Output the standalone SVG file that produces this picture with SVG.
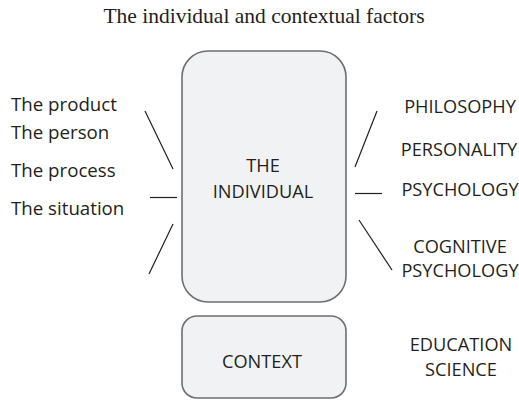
<svg xmlns="http://www.w3.org/2000/svg" width="519" height="403" viewBox="0 0 519 403">
<style>
.t{font-family:"Open Sans","Liberation Sans",sans-serif;font-size:18.2px;fill:#231f20}
.l{font-size:18.7px}
.c{text-anchor:middle}
.box{fill:#f1f2f4;stroke:#6d6e71;stroke-width:1.6}
.ln{stroke:#231f20;stroke-width:1.2;fill:none}
</style>
<rect width="519" height="403" fill="#fff"/>
<text x="264" y="22.5" text-anchor="middle" style="font-family:'Liberation Serif',serif;font-size:21.5px;fill:#231f20">The individual and contextual factors</text>
<g id="individual">
<rect class="box" x="182" y="51" width="164" height="251" rx="26" ry="26"/>
<text class="t c" x="263" y="172">THE</text>
<text class="t c" x="263" y="198">INDIVIDUAL</text>
</g>
<g id="context">
<rect class="box" x="182" y="316" width="164" height="82" rx="15" ry="15"/>
<text class="t c" x="262" y="368">CONTEXT</text>
</g>
<g id="left-labels">
<text class="t l" x="11" y="111">The product</text>
<text class="t l" x="11" y="139">The person</text>
<text class="t l" x="11" y="177">The process</text>
<text class="t l" x="11" y="215">The situation</text>
</g>
<g id="right-labels">
<text class="t c" x="460" y="113">PHILOSOPHY</text>
<text class="t c" x="459" y="156">PERSONALITY</text>
<text class="t c" x="460" y="196">PSYCHOLOGY</text>
<text class="t c" x="460" y="253">COGNITIVE</text>
<text class="t c" x="460" y="277">PSYCHOLOGY</text>
<text class="t c" x="461" y="351">EDUCATION</text>
<text class="t c" x="461" y="376">SCIENCE</text>
</g>
<g id="connectors">
<line class="ln" x1="145" y1="111" x2="173" y2="169"/>
<line class="ln" x1="150" y1="197.5" x2="177" y2="197.5"/>
<line class="ln" x1="173" y1="224" x2="149" y2="274"/>
<line class="ln" x1="377" y1="111" x2="355" y2="167"/>
<line class="ln" x1="355" y1="193.5" x2="382" y2="193.5"/>
<line class="ln" x1="359" y1="220" x2="392" y2="270"/>
</g>
</svg>
